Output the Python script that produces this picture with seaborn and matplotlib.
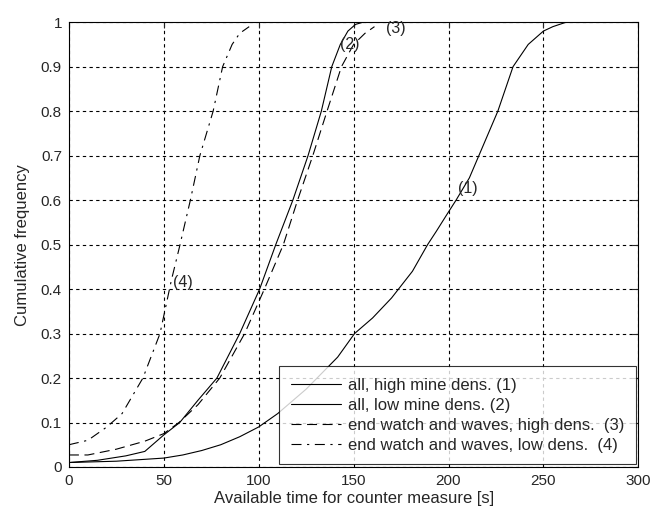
import numpy as np
import pandas as pd
import seaborn as sns
import matplotlib.pyplot as plt

# curve (1): all, high mine density
c1_x = [0, 25, 50, 60, 70, 80, 90, 100, 110, 125, 141.6, 150.5, 160, 170, 181, 189, 193.6, 199.5, 204, 211, 217, 226, 234, 242, 250, 255, 262]
c1_y = [0.01, 0.013, 0.02, 0.027, 0.037, 0.05, 0.068, 0.09, 0.12, 0.175, 0.247, 0.30, 0.335, 0.38, 0.44, 0.50, 0.53, 0.57, 0.60, 0.65, 0.71, 0.80, 0.90, 0.95, 0.98, 0.99, 1.0]
# curve (2): all, low mine density
c2_x = [0, 15, 30, 40, 50, 58.4, 68, 78, 90, 100.5, 109, 118, 126, 133, 138.5, 143, 147, 151, 155]
c2_y = [0.01, 0.015, 0.025, 0.035, 0.072, 0.1, 0.15, 0.2, 0.3, 0.4, 0.5, 0.6, 0.7, 0.8, 0.9, 0.95, 0.98, 0.995, 1.0]
# curve (3): end watch and waves, high density
c3_x = [0, 10, 25, 40, 50, 58, 68, 79.5, 92.6, 103, 113, 120.5, 128.5, 136, 143.6, 150, 156, 161]
c3_y = [0.027, 0.027, 0.04, 0.058, 0.075, 0.1, 0.14, 0.2, 0.3, 0.4, 0.5, 0.6, 0.7, 0.8, 0.9, 0.95, 0.975, 0.99]
# curve (4): end watch and waves, low density
c4_x = [0, 10, 20, 28, 39, 48, 54, 58, 64, 69, 76, 81, 86, 90, 95]
c4_y = [0.05, 0.06, 0.09, 0.12, 0.2, 0.3, 0.42, 0.49, 0.6, 0.7, 0.8, 0.9, 0.95, 0.975, 0.99]

labels = ['all, high mine dens. (1)',
          'all, low mine dens. (2)',
          'end watch and waves, high dens.  (3)',
          'end watch and waves, low dens.  (4)']
tags = ['(1)', '(2)', '(3)', '(4)']
tag_pos = [(205, 0.627), (143, 0.95), (167, 0.985), (55, 0.415)]

sns.set_style('white')
plt.rcParams['font.family'] = ['Liberation Sans', 'DejaVu Sans']
fs = 12

fig = plt.figure(figsize=(6.5, 5.16), dpi=100)
ax = fig.add_axes([0.106, 0.095, 0.876, 0.862])

styles = ['-', '-', (0, (9, 5)), (0, (9, 5, 2, 5))]
series = [(c1_x, c1_y), (c2_x, c2_y), (c3_x, c3_y), (c4_x, c4_y)]
for (xs, ys), ls, lab in zip(series, styles, labels):
    sns.lineplot(x=xs, y=ys, ax=ax, color='black', lw=0.8, linestyle=ls,
                 label=lab, sort=False)

for t, (tx, ty) in zip(tags, tag_pos):
    ax.text(tx, ty, t, fontsize=11.5, va='center', ha='left')

ax.set_xlim(0, 300)
ax.set_ylim(0, 1)
ax.set_xticks(np.arange(0, 301, 50))
ax.set_yticks(np.arange(0, 1.01, 0.1))
ax.set_yticklabels(['0', '0.1', '0.2', '0.3', '0.4', '0.5', '0.6', '0.7', '0.8', '0.9', '1'])
ax.grid(True, color='black', linestyle=(0, (3, 3)), lw=0.8)
ax.tick_params(direction='in', top=True, right=True, length=4, labelsize=11, pad=5)
for s in ax.spines.values():
    s.set_color('black')
    s.set_linewidth(0.8)

ax.set_xlabel('Available time for counter measure [s]', fontsize=fs, labelpad=2)
ax.set_ylabel('Cumulative frequency', fontsize=fs, labelpad=8)

leg = ax.legend(loc='lower right', fontsize=fs, frameon=True, fancybox=False,
                edgecolor='black', handlelength=3.0, handletextpad=0.4,
                borderaxespad=0.15, labelspacing=0.3, borderpad=0.7)
leg.get_frame().set_linewidth(0.8)

plt.savefig('out.png', dpi=100)
